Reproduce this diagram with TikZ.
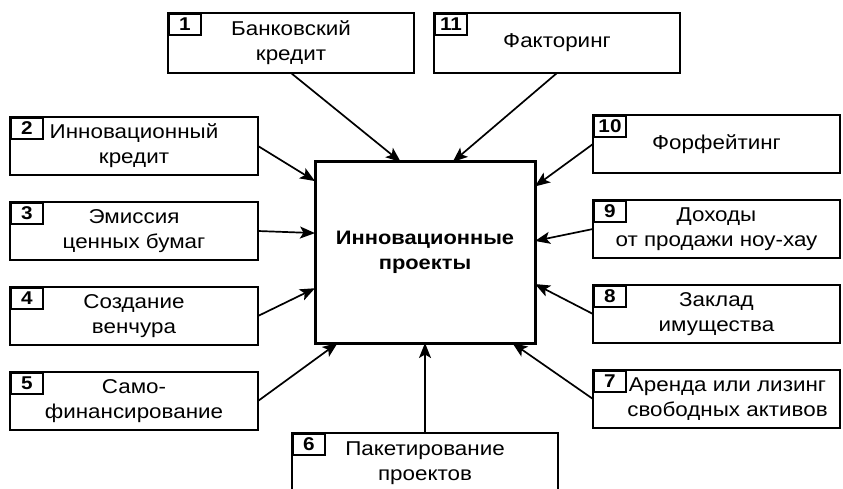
\documentclass[tikz,border=0pt]{standalone}
\usepackage{fontspec}
\setsansfont{Liberation Sans}[FakeStretch=1.12]
\usetikzlibrary{arrows.meta,positioning}

\begin{document}
\begin{tikzpicture}[
  x=1pt,y=-1pt,
  node distance=27pt and 20pt,
  source/.style={draw,line width=2.6pt,outer sep=0pt,minimum width=248pt,minimum height=58pt,align=center,inner sep=2pt,font=\sffamily\fontsize{20}{25}\selectfont},
  tag/.style={draw,line width=2pt,anchor=north west,minimum width=32pt,minimum height=21pt,inner sep=0pt,font=\sffamily\bfseries\fontsize{18.5}{18.5}\selectfont},
  feed/.style={line width=1.7pt,-{Stealth[length=15pt,width=12pt,inset=3.5pt]}}
]
  \useasboundingbox (0,0) rectangle (843,489);
  \clip (0,0) rectangle (843,489);

  \node[source,line width=3pt,minimum width=220pt,minimum height=181pt,font=\sffamily\bfseries\fontsize{19.5}{25}\selectfont] (core) at (425,252.5) {Инновационные\\проекты};

  \node[source,minimum width=246pt,minimum height=60pt] (bank) at (291,43) {Банковский\\кредит};
  \node[source,minimum width=246pt,minimum height=60pt] (factor) at (557,43) {Факторинг};

  \node[source] (credit) at (134,146) {Инновационный\\кредит};
  \node[source,below=of credit] (emission) {Эмиссия\\ценных бумаг};
  \node[source,below=of emission] (venture) {Создание\\венчура};
  \node[source,below=of venture] (selffin) {Само-\\финансирование};

  \node[source,minimum width=247pt] (forfait) at (716.5,144) {Форфейтинг};
  \node[source,minimum width=247pt,below=of forfait] (knowhow) {Доходы\\от продажи ноу-хау};
  \node[source,minimum width=247pt,below=of knowhow] (pledge) {Заклад\\имущества};
  \node[source,minimum width=247pt,below=of pledge] (lease) {\hspace*{22pt}Аренда или лизинг\\\hspace*{22pt}свободных активов};

  \node[source,minimum width=266pt,minimum height=60pt] (package) at (425,463) {Пакетирование\\проектов};

  % number tags
  \foreach \src/\num in {bank/1,factor/11,credit/2,emission/3,venture/4,selffin/5,package/6,lease/7,pledge/8,knowhow/9,forfait/10}
    \node[tag] (tag-\src) at (\src.north west) {\num};

  \draw[feed] (bank.south) -- (core.105);
  \draw[feed] (factor.south) -- (core.73);
  \draw[feed] (credit.east) -- (core.147);
  \draw[feed] (emission.east) -- (core.170);
  \draw[feed] (venture.east) -- (core.198);
  \draw[feed] (selffin.east) -- (core.226);
  \draw[feed] (package.north) -- (core.south);
  \draw[feed] (lease.west) -- (core.314);
  \draw[feed] (pledge.west) -- (core.344);
  \draw[feed] (knowhow.west) -- (core.6);
  \draw[feed] (forfait.west) -- (core.31);
\end{tikzpicture}
\end{document}
